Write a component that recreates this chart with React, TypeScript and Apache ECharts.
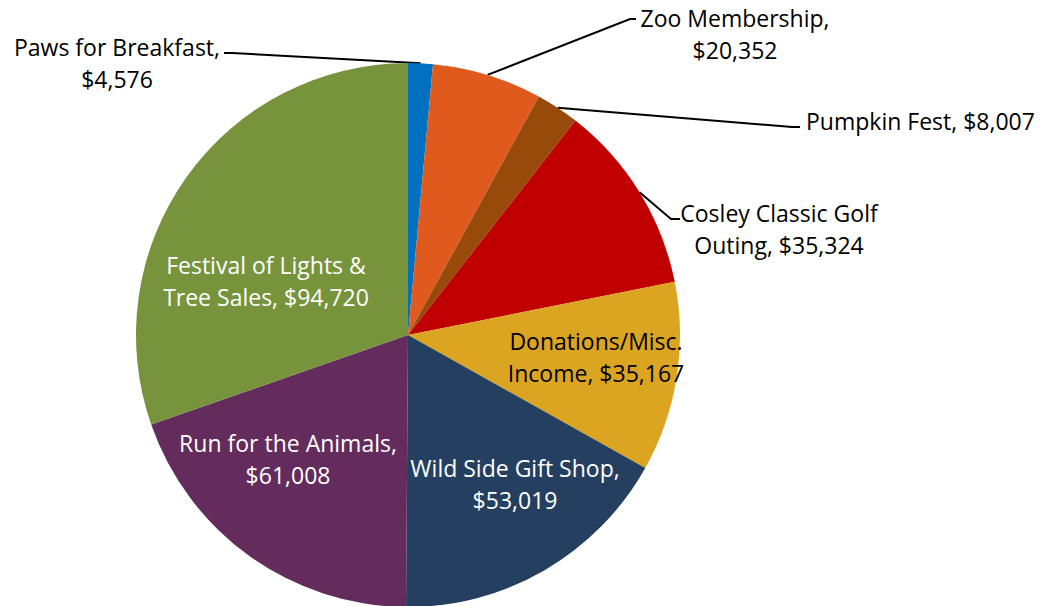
import React, { useEffect, useRef } from "react";
import * as echarts from "echarts";

const categories = [
  "Paws for Breakfast",
  "Zoo Membership",
  "Pumpkin Fest",
  "Cosley Classic Golf Outing",
  "Donations/Misc. Income",
  "Wild Side Gift Shop",
  "Run for the Animals",
  "Festival of Lights & Tree Sales",
];
const values = [4576, 20352, 8007, 35324, 35167, 53019, 61008, 94720];
const labelTexts = [
  "Paws for Breakfast,\n$4,576",
  "Zoo Membership,\n$20,352",
  "Pumpkin Fest, $8,007",
  "Cosley Classic Golf\nOuting, $35,324",
  "Donations/Misc.\nIncome, $35,167",
  "Wild Side Gift Shop,\n$53,019",
  "Run for the Animals,\n$61,008",
  "Festival of Lights &\nTree Sales, $94,720",
];
const colors = ["#0070C0", "#E05A1E", "#974A0A", "#C00000", "#DBA521", "#253F60", "#632C5C", "#77933C"];
const textColors = ["#000", "#000", "#000", "#000", "#000", "#fff", "#fff", "#fff"];
const outside = [true, true, true, true, false, false, false, false];

// label placement
const labelPos: any[] = [
  { x: 117, y: 63, align: "center", line: [[232, 53], [224, 53]] },
  { x: 735, y: 34, align: "center", line: [[630, 19], [636, 19]] },
  { x: 806, y: 121, align: "left", line: [[792, 127], [800, 127]] },
  { x: 779, y: 229, align: "center", line: [[671, 219], [680, 219]] },
  { x: 596, y: 357, align: "center" },
  { x: 515, y: 484, align: "center" },
  { x: 288, y: 459, align: "center" },
  { x: 266, y: 281, align: "center" },
];

export default function App() {
  const ref = useRef<HTMLDivElement>(null);
  useEffect(() => {
    const chart = echarts.init(ref.current!, null, { renderer: "svg" });
    chart.setOption({
      animation: false,
      series: [
        {
          type: "pie",
          center: [408, 335],
          radius: 272,
          startAngle: 90,
          clockwise: true,
          avoidLabelOverlap: false,
          data: categories.map((name, i) => ({
            name,
            value: values[i],
            itemStyle: { color: colors[i] },
            label: {
              show: true,
              position: outside[i] ? "outside" : "inside",
              formatter: labelTexts[i],
              color: textColors[i],
              fontFamily: "Open Sans",
              fontSize: 23,
              lineHeight: 32,
              align: "center",
            },
            labelLine: {
              show: outside[i],
              lineStyle: { color: "#000", width: 2 },
              length: 10,
              length2: 10,
            },
          })),
          labelLayout: (params: any) => {
            const p = labelPos[params.dataIndex];
            const res: any = { x: p.x, y: p.y, align: p.align, verticalAlign: "middle" };
            if (p.line && params.labelLinePoints) {
              res.labelLinePoints = [params.labelLinePoints[0], ...p.line];
            }
            return res;
          },
        },
      ],
    });
    return () => chart.dispose();
  }, []);
  return (
    <div
      ref={ref}
      style={{ position: "fixed", left: 0, top: 0, width: 1051, height: 606, background: "#fff" }}
    />
  );
}
